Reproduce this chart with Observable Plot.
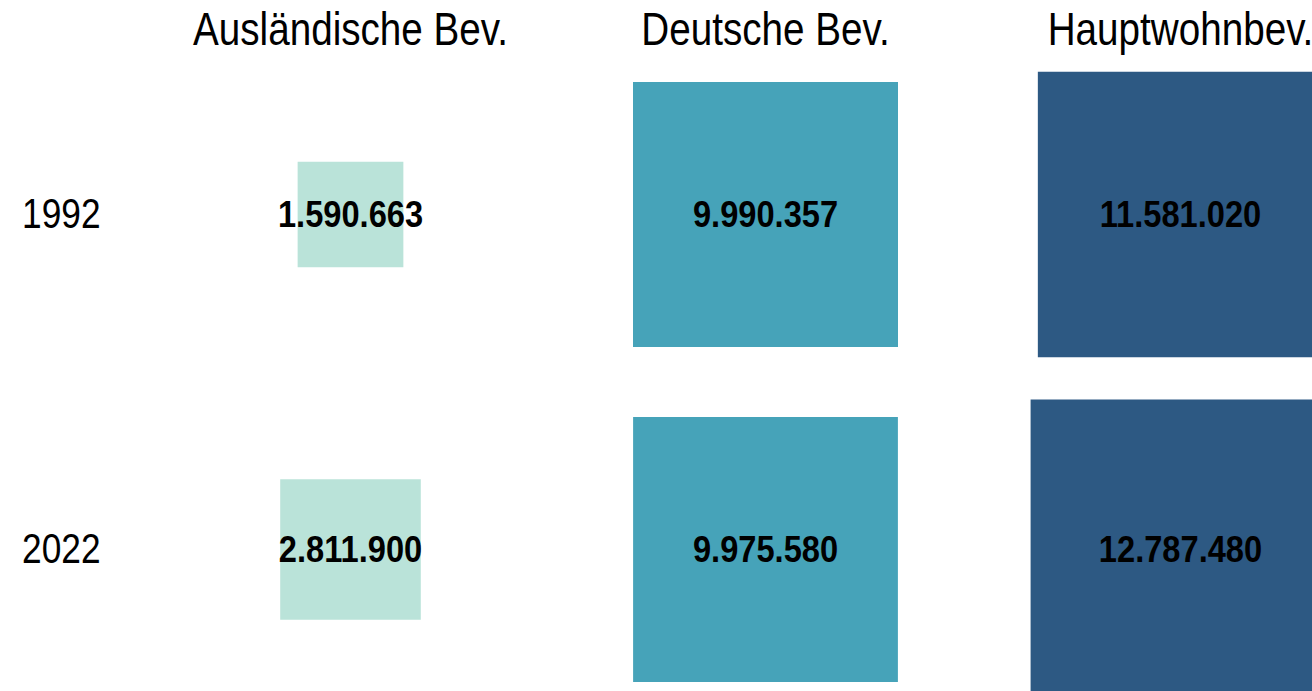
<!DOCTYPE html>
<html>
<head>
<meta charset="utf-8">
<script src="https://cdn.jsdelivr.net/npm/d3@7"></script>
<script src="https://cdn.jsdelivr.net/npm/@observablehq/plot@0.6"></script>
<style>
  html, body { margin: 0; padding: 0; background: #fff; overflow: hidden; }
  #chart svg { max-width: none; }
</style>
</head>
<body>
<div id="chart"></div>
<script>
const categories = ["Ausländische Bev.", "Deutsche Bev.", "Hauptwohnbev."];
const years = ["1992", "2022"];
const auslaendisch = [1590663, 2811900];
const deutsch = [9990357, 9975580];
const hauptwohn = [11581020, 12787480];
const colors = ["#bae3d9", "#46a3b9", "#2d5983"];

const series = [auslaendisch, deutsch, hauptwohn];
const data = [];
categories.forEach((c, i) => years.forEach((y, j) => data.push({cat: c, year: y, value: series[i][j]})));

const fmt = d3.formatLocale({decimal: ",", thousands: ".", grouping: [3], currency: ["", " €"]}).format(",d");
const maxV = d3.max(data, d => d.value);
const FONT = "'Liberation Sans Narrow', 'Arial Narrow', 'Liberation Sans', Arial, sans-serif";

const chart = Plot.plot({
  width: 1312,
  height: 691,
  marginTop: 48,
  marginLeft: 100,
  marginRight: 0,
  marginBottom: 0,
  style: {fontFamily: FONT, background: "white"},
  x: {type: "point", domain: categories, range: [349.5, 1180], padding: 0, axis: null},
  y: {type: "point", domain: years, range: [214, 549], padding: 0, axis: null},
  r: {type: "sqrt", domain: [0, maxV], range: [0, 0.08384 * Math.sqrt(maxV) / Math.sqrt(Math.PI)]},
  color: {domain: categories, range: colors},
  marks: [
    Plot.dot(data, {x: "cat", y: "year", r: "value", symbol: "square", fill: "cat", stroke: null}),
    Plot.text(data, {x: "cat", y: "year", text: d => fmt(d.value), fontSize: 37.5, fontWeight: "bold", fill: "black", lineAnchor: "middle", fontFamily: FONT}),
    Plot.axisX({anchor: "top", tickSize: 0, tickPadding: 4, fontSize: 46, label: null, fontFamily: FONT, fill: "black"}),
    Plot.axisY({anchor: "left", tickSize: 0, tickPadding: 0, fontSize: 42, label: null, fontFamily: FONT, fill: "black"})
  ]
});
document.getElementById("chart").appendChild(chart);

// emulate a narrow typeface by condensing every text horizontally
chart.querySelectorAll("text").forEach(t => {
  const bold = (t.getAttribute("font-weight") || getComputedStyle(t).fontWeight) + "";
  const factor = (bold === "bold" || +bold >= 600) ? 0.87 : 0.84;
  const len = t.getComputedTextLength();
  if (len > 0) {
    t.setAttribute("textLength", (len * factor).toFixed(2));
    t.setAttribute("lengthAdjust", "spacingAndGlyphs");
  }
});
</script>
</body>
</html>
